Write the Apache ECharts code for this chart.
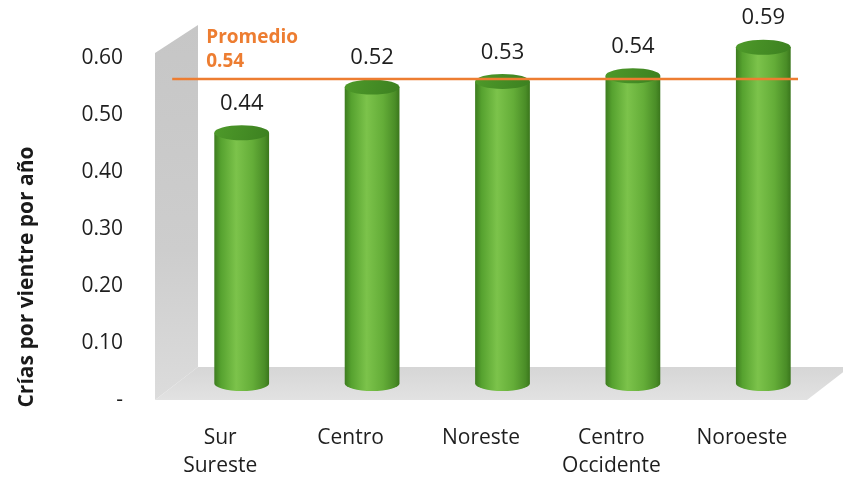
<!DOCTYPE html>
<html><head><meta charset="utf-8">
<script src="https://cdn.jsdelivr.net/npm/echarts@6/dist/echarts.min.js"></script>
<style>html,body{margin:0;padding:0;background:#fff}#c{width:843px;height:480px}</style>
</head><body><div id="c"></div>
<script>
const categories = ['Sur\nSureste', 'Centro', 'Noreste', 'Centro\nOccidente', 'Noroeste'];
const values = [0.44, 0.52, 0.53, 0.54, 0.59];
const valueLabels = ['0.44', '0.52', '0.53', '0.54', '0.59'];
const average = 0.54;
const averageLabel = ['Promedio', '0.54'];
const yTicks = [0, 0.1, 0.2, 0.3, 0.4, 0.5, 0.6];
const yTitle = 'Crías por vientre por año';

const DX = 43, DY = -33;     // 3D depth offset of the floor
const FONT = '"Open Sans", sans-serif';

const chart = echarts.init(document.getElementById('c'), null, {renderer: 'canvas'});

function renderFrame(params, api) {
  const cs = params.coordSys;
  const left = cs.x, right = cs.x + cs.width;
  const y0 = api.coord([0, 0])[1];
  const yTop = api.coord([0, yTicks[yTicks.length - 1]])[1] - 5;
  return {
    type: 'group',
    children: [
      { type: 'polygon', shape: { points: [[left, y0], [left, yTop], [left + DX, yTop + DY + 5], [left + DX, y0 + DY]] },
        style: { fill: new echarts.graphic.LinearGradient(0, 0, 0, 1, [
          {offset: 0, color: '#c6c6c6'}, {offset: 0.6, color: '#cdcdcd'}, {offset: 1, color: '#dcdcdc'}]) } },
      { type: 'polygon', shape: { points: [[left, y0], [right, y0], [right + DX, y0 + DY], [left + DX, y0 + DY]] },
        style: { fill: new echarts.graphic.LinearGradient(0, 0, 0, 1, [
          {offset: 0, color: '#d6d6d6'}, {offset: 1, color: '#e2e2e2'}]) } }
    ]
  };
}

function renderBar(params, api) {
  const i = api.value(0), v = api.value(1);
  const band = api.size([1, 0])[0];
  const top = api.coord([i, v]);
  const bot = api.coord([i, 0]);
  const cx = top[0] + DX / 2;
  const yT = top[1] + DY / 2;
  const yB = bot[1] + DY / 2;
  const w = band * 0.42;
  const rx = w / 2, ry = 7.5;
  const x1 = cx - rx, x2 = cx + rx;
  const body = `M ${x1} ${yT} L ${x1} ${yB} A ${rx} ${ry} 0 0 0 ${x2} ${yB} L ${x2} ${yT} Z`;
  const cap = `M ${x1} ${yT} A ${rx} ${ry} 0 1 0 ${x2} ${yT} A ${rx} ${ry} 0 1 0 ${x1} ${yT} Z`;
  return {
    type: 'group',
    children: [
      { type: 'path', shape: { pathData: body },
        style: { fill: new echarts.graphic.LinearGradient(0, 0, 1, 0, [
          {offset: 0, color: '#3d7c1f'}, {offset: 0.12, color: '#56a22f'}, {offset: 0.4, color: '#7cc34b'},
          {offset: 0.7, color: '#64ad38'}, {offset: 0.92, color: '#4a8d27'}, {offset: 1, color: '#3a761c'}]) } },
      { type: 'path', shape: { pathData: cap },
        style: { fill: new echarts.graphic.LinearGradient(0, 0, 1, 1, [
          {offset: 0, color: '#4e9a2a'}, {offset: 1, color: '#3c8020'}]) } },
      { type: 'text', x: cx, y: yT - 29,
        style: { text: valueLabels[i], font: `22px ${FONT}`, fill: '#1e1e1e', align: 'center', verticalAlign: 'middle' } }
    ]
  };
}

function renderAverage(params, api) {
  const cs = params.coordSys;
  const y = api.coord([0, api.value(1)])[1] + DY * 0.4;
  const x1 = cs.x + DX * 0.4, x2 = cs.x + cs.width - 9;
  return {
    type: 'group',
    children: [
      { type: 'line', shape: { x1: x1, y1: y, x2: x2, y2: y }, style: { stroke: '#ED7D31', lineWidth: 2.5 } },
      { type: 'text', x: x1 + 34, y: y - 41,
        style: { text: averageLabel[0], font: `bold 19px ${FONT}`, fill: '#ED7D31', align: 'left', verticalAlign: 'middle' } },
      { type: 'text', x: x1 + 34, y: y - 17,
        style: { text: averageLabel[1], font: `bold 19px ${FONT}`, fill: '#ED7D31', align: 'left', verticalAlign: 'middle' } }
    ]
  };
}

chart.setOption({
  animation: false,
  backgroundColor: '#ffffff',
  grid: { left: 155, right: 36, top: 58, bottom: 80 },
  xAxis: {
    type: 'category', data: categories,
    axisLine: { show: false }, axisTick: { show: false },
    axisLabel: { color: '#1e1e1e', fontSize: 21, fontFamily: FONT, lineHeight: 28, margin: 24, interval: 0 }
  },
  yAxis: {
    type: 'value', min: yTicks[0], max: yTicks[yTicks.length - 1], interval: 0.1,
    axisLine: { show: false }, axisTick: { show: false }, splitLine: { show: false },
    axisLabel: { color: '#1e1e1e', fontSize: 21, fontFamily: FONT, margin: 32,
      formatter: v => (Math.abs(v) < 1e-9 ? '-' : v.toFixed(2)) }
  },
  graphic: [{
    type: 'text', x: 27, y: 277, rotation: Math.PI / 2,
    style: { text: yTitle, font: `bold 21px ${FONT}`, fill: '#1a1a1a', align: 'center', verticalAlign: 'middle' }
  }],
  series: [
    { type: 'custom', name: 'frame', data: [[0, 0]], renderItem: renderFrame, z: 1, silent: true, clip: false },
    { type: 'custom', name: 'Crías', data: values.map((v, i) => [i, v]), encode: { x: 0, y: 1 }, renderItem: renderBar, z: 2, clip: false },
    { type: 'custom', name: 'Promedio', data: [[0, average]], encode: { x: 0, y: 1 }, renderItem: renderAverage, z: 3, clip: false }
  ]
});
</script></body></html>
